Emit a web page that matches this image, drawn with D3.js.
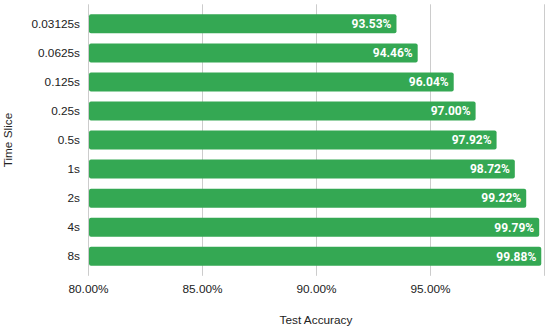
<!DOCTYPE html>
<html><head><meta charset="utf-8">
<script src="https://cdn.jsdelivr.net/npm/d3@7"></script>
<style>body{margin:0;background:#fff}svg{display:block}</style>
</head><body>
<svg id="c" width="550" height="329"></svg>
<script>
const categories = ["0.03125s","0.0625s","0.125s","0.25s","0.5s","1s","2s","4s","8s"];
const accuracy = [93.53, 94.46, 96.04, 97.00, 97.92, 98.72, 99.22, 99.79, 99.88];
const xTicks = [80, 85, 90, 95];
const xDomain = [80, 100];

(function(){
const svg = d3.select("#c");
const pL = 88, pR = 544, pT = 4.3, pB = 275.8;
const font = "'Liberation Sans', Arial, sans-serif";
const x = d3.scaleLinear().domain(xDomain).range([pL, pR]);
const y = d3.scaleBand().domain(categories).range([pT, pB]).paddingInner(0.345).paddingOuter(0.345);

svg.append("g").selectAll("line").data(xTicks.concat([xDomain[1]])).join("line")
  .attr("x1", d => x(d)+0.5).attr("x2", d => x(d)+0.5)
  .attr("y1", pT).attr("y2", pB)
  .attr("stroke", "#cccccc").attr("stroke-width", 1);

svg.append("g").selectAll("rect").data(categories).join("rect")
  .attr("x", x(xDomain[0]) + 1)
  .attr("y", d => y(d))
  .attr("width", (d,i) => x(accuracy[i]) - x(xDomain[0]) - 1)
  .attr("height", y.bandwidth())
  .attr("rx", 2).attr("ry", 2)
  .attr("fill", "#34a853");

svg.append("g").selectAll("text").data(categories).join("text")
  .attr("x", (d,i) => x(accuracy[i]) - 5)
  .attr("y", d => y(d) + y.bandwidth()/2)
  .attr("dy", "0.36em")
  .attr("text-anchor", "end")
  .attr("font-family", "Roboto, sans-serif")
  .attr("font-weight", "bold")
  .attr("font-size", 12)
  .attr("fill", "#ffffff")
  .text((d,i) => accuracy[i].toFixed(2) + "%");

const ya = svg.append("g").attr("transform", `translate(${pL},0)`).call(d3.axisLeft(y).tickSize(0).tickPadding(8));
ya.select(".domain").remove();
ya.selectAll("text").attr("font-family", font).attr("font-size", 11.8).attr("fill", "#222");

const xa = svg.append("g").attr("transform", `translate(0,${pB})`)
  .call(d3.axisBottom(x).tickValues(xTicks).tickSize(0).tickPadding(9).tickFormat(d => d.toFixed(2) + "%"));
xa.select(".domain").remove();
xa.selectAll("text").attr("font-family", font).attr("font-size", 11.8).attr("fill", "#222");

svg.append("text").attr("x", (pL+pR)/2).attr("y", 324)
  .attr("text-anchor", "middle").attr("font-family", font)
  .attr("font-size", 11.8).attr("fill", "#222").text("Test Accuracy");
svg.append("text").attr("transform", `translate(12,${(pT+pB)/2}) rotate(-90)`)
  .attr("text-anchor", "middle").attr("font-family", font)
  .attr("font-size", 11.8).attr("fill", "#222").text("Time Slice");
})();
</script>
</body></html>
